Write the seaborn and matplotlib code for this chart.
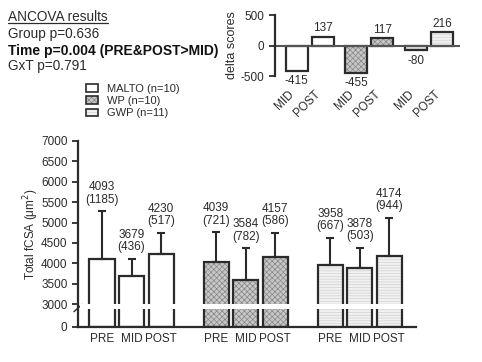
import numpy as np
import pandas as pd
import matplotlib
matplotlib.use("Agg")
import matplotlib.pyplot as plt
import matplotlib.transforms as mtransforms
from matplotlib.patches import Patch, Rectangle
from matplotlib.lines import Line2D
from matplotlib.legend_handler import HandlerTuple
import seaborn as sns

# Data
groups = ["MALTO", "WP", "GWP"]
group_n = [10, 10, 11]
times = ["PRE", "MID", "POST"]
malto_mean = [4093, 3679, 4230]
malto_sd = [1185, 436, 517]
wp_mean = [4039, 3584, 4157]
wp_sd = [721, 782, 586]
gwp_mean = [3958, 3878, 4174]
gwp_sd = [667, 503, 944]
delta_times = ["MID", "POST"]
delta_mid = [-415, -455, -80]
delta_post = [137, 117, 216]

# fill colour, hatch, hatch colour per group
styles = {
    "MALTO": ("white", None, "white"),
    "WP": ("#c8c8c8", "xxxxxx", "#858585"),
    "GWP": ("#f1f1f1", "------", "#d2d2d2"),
}
ink = "#2b2b2b"

sns.set_style("ticks")
plt.rcParams["font.family"] = ["Liberation Sans", "DejaVu Sans"]
plt.rcParams["hatch.linewidth"] = 0.5
plt.rcParams["axes.unicode_minus"] = False

# long tables for seaborn
rows = []
for g, (grp, means, sds) in enumerate(zip(groups, [malto_mean, wp_mean, gwp_mean], [malto_sd, wp_sd, gwp_sd])):
    for t, time in enumerate(times):
        rows.append({"group": grp, "time": time, "pos": g * 3.86 + t, "mean": means[t], "sd": sds[t]})
df = pd.DataFrame(rows)

drows = []
for g, grp in enumerate(groups):
    for t, (time, val) in enumerate(zip(delta_times, [delta_mid[g], delta_post[g]])):
        drows.append({"group": grp, "time": time, "pos": g * 2.3 + t, "delta": val})
ddf = pd.DataFrame(drows)


def style_bars(ax, data):
    # fill with hatch, then a plain dark outline on top
    for patch, grp in zip(list(ax.patches), data["group"]):
        fc, hatch, hc = styles[grp]
        patch.set_facecolor(fc)
        patch.set_hatch(hatch)
        patch.set_edgecolor(hc)
        patch.set_linewidth(0)
        ax.add_patch(Rectangle(patch.get_xy(), patch.get_width(), patch.get_height(),
                               fill=False, edgecolor=ink, linewidth=1.6, zorder=1.5))


fig = plt.figure(figsize=(4.82, 3.62), dpi=100)

# ---- main chart with broken y axis ----
ax = fig.add_axes([0.1618, 0.0967, 0.7012, 0.5138])
sns.barplot(data=df, x="pos", y="mean", native_scale=True, orient="x", width=0.85,
            errorbar=None, ax=ax)
style_bars(ax, df)

brk, low = 3000, 564


def fwd(y):
    y = np.asarray(y, float)
    return np.where(y < brk, y * low / brk, low + (y - brk))


def inv(v):
    v = np.asarray(v, float)
    return np.where(v < low, v * brk / low, brk + (v - low))


ax.set_yscale("function", functions=(fwd, inv))
ax.set_ylim(0, 7000)
ax.set_yticks([0] + list(range(3000, 7001, 500)))
ax.set_xlim(-0.81, 10.62)

ax.errorbar(df["pos"], df["mean"], yerr=[np.zeros(len(df)), df["sd"]], fmt="none",
            ecolor=ink, elinewidth=1.5, capsize=3, capthick=1.5, zorder=3)

for _, r in df.iterrows():
    ax.annotate(f"{int(r['mean'])}\n({int(r['sd'])})", (r["pos"], r["mean"] + r["sd"]),
                xytext=(0, 4), textcoords="offset points", ha="center", va="bottom",
                fontsize=8.5, linespacing=1.05, color=ink)

# white break through the bars and a slash on the spine
ax.axhspan(2350, 2990, xmin=0.006, xmax=1, color="white", lw=0, zorder=2.4)
trans = mtransforms.blended_transform_factory(ax.transAxes, ax.transData)
ax.plot([-0.012, 0.012], [2000, 2950], transform=trans, color=ink, lw=1, clip_on=False)

ax.set_xticks(df["pos"], df["time"])
ax.tick_params(axis="x", length=0, pad=4, labelsize=8.5, colors=ink)
ax.tick_params(axis="y", length=4, width=1.3, labelsize=8.5, colors=ink)
ax.set_xlabel("")
ax.set_ylabel("Total fCSA (μm$^2$)", fontsize=8.5, color=ink, labelpad=0)
sns.despine(ax=ax)
for s in ["left", "bottom"]:
    ax.spines[s].set_linewidth(1.6)
    ax.spines[s].set_color(ink)

# ---- delta scores inset ----
ax2 = fig.add_axes([0.5705, 0.790, 0.384, 0.1685])
sns.barplot(data=ddf, x="pos", y="delta", native_scale=True, orient="x", width=0.85,
            errorbar=None, ax=ax2)
style_bars(ax2, ddf)
ax2.set_ylim(-500, 500)
ax2.set_yticks([-500, 0, 500])
ax2.set_xlim(-0.83, 6.29)
ax2.axhline(0, color="#555555", lw=1.5, zorder=2)
for _, r in ddf.iterrows():
    up = r["delta"] > 0
    ax2.annotate(f"{int(r['delta'])}", (r["pos"], r["delta"]), xytext=(0, 2 if up else -3),
                 textcoords="offset points", ha="center", va="bottom" if up else "top",
                 fontsize=8.5, color=ink)
ax2.set_xticks(ddf["pos"], ddf["time"], rotation=45, ha="right", rotation_mode="default")
ax2.tick_params(axis="x", length=0, pad=9, labelsize=8.5, colors=ink)
ax2.tick_params(axis="y", length=4, width=1.3, labelsize=8.5, colors=ink)
ax2.set_xlabel("")
ax2.set_ylabel("delta scores", fontsize=9, color=ink, labelpad=2)
sns.despine(ax=ax2, bottom=True)
ax2.spines["left"].set_linewidth(1.6)
ax2.spines["left"].set_color(ink)

# ---- ANCOVA text and legend ----
tx = 8 / 482
t0 = fig.text(tx, 1 - 17 / 362, "ANCOVA results", fontsize=9.8, va="center", color=ink)
fig.text(tx, 1 - 34 / 362, "Group p=0.636", fontsize=9.8, va="center", color=ink)
fig.text(tx, 1 - 51 / 362, "Time p=0.004 (PRE&POST>MID)", fontsize=10, va="center",
         fontweight="bold", color="#111111")
fig.text(tx, 1 - 66 / 362, "GxT p=0.791", fontsize=9.8, va="center", color=ink)

handles = []
for grp in groups:
    fc, hatch, hc = styles[grp]
    handles.append((Patch(facecolor=fc, hatch=hatch, edgecolor=hc, linewidth=0),
                    Patch(fill=False, edgecolor=ink, linewidth=1.2)))
labels = [f"{grp} (n={n})" for grp, n in zip(groups, group_n)]
fig.legend(handles, labels, handler_map={tuple: HandlerTuple(ndivide=1)},
           loc="upper left", bbox_to_anchor=(86 / 482, 1 - 84 / 362), frameon=False,
           fontsize=8, handlelength=1.05, handleheight=0.7, handletextpad=0.8,
           labelspacing=0.2, borderpad=0, borderaxespad=0, labelcolor=ink)

fig.canvas.draw()
bb = t0.get_window_extent()
(x0, y0), (x1, y1) = fig.transFigure.inverted().transform([[bb.x0, bb.y0], [bb.x1, bb.y1]])
fig.add_artist(Line2D([x0, x1], [y0 + 0.004, y0 + 0.004], color=ink, lw=0.9))

fig.savefig("out.png", dpi=100)
